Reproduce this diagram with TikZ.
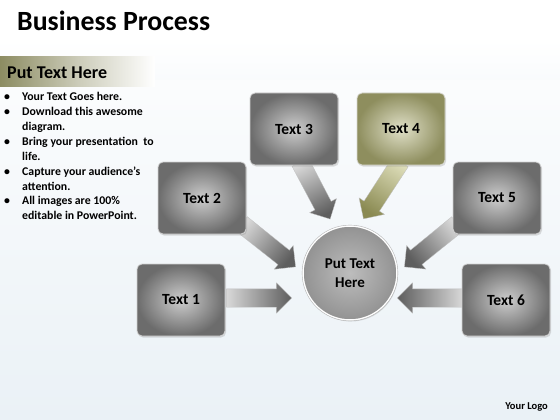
\documentclass[tikz,border=0pt]{standalone}
\usepackage{fontspec}
\setmainfont{Carlito}
\usetikzlibrary{shapes.arrows,calc,shadows}
\pgfdeclarelayer{bg}
\pgfdeclarelayer{arr}
\pgfsetlayers{bg,arr,main}
\definecolor{gboxin}{HTML}{CDCDCD}
\definecolor{gboxout}{HTML}{6C6C6C}
\definecolor{oboxin}{HTML}{E0E0C8}
\definecolor{oboxout}{HTML}{8E8E5E}
\definecolor{garlight}{HTML}{D8D8D8}
\definecolor{gardark}{HTML}{5E5E5E}
\definecolor{oarlight}{HTML}{DCDCB8}
\definecolor{oardark}{HTML}{8A8A52}
\definecolor{bgblue}{HTML}{EAF1F6}
\definecolor{hdrolive}{HTML}{8C8C62}
\newcommand\blockarr[5]{%
  \path let \p1=(#1), \p2=(#2),
    \n1={atan2(\y2-\y1,\x2-\x1)},
    \n2={veclen(\x2-\x1,\y2-\y1)},
    \n3={atan2(\y2-\y1,\x2-\x1)-90} in
    node[barrow, rotate=\n1, minimum height=\n2, top color=#4, bottom color=#3, shading angle=\n3] (#5) at ($(#1)!0.5!(#2)$) {};
}
\begin{document}
\begin{tikzpicture}[x=1pt,y=-1pt,
  pbox/.style={rectangle, rounded corners=5pt, minimum width=88pt, minimum height=72pt,
    inner color=gboxin, outer color=gboxout, draw=gray!35, line width=0.8pt,
    font=\fontsize{15.5}{18}\selectfont\bfseries,
    drop shadow={opacity=0.25,shadow xshift=1pt,shadow yshift=-1.5pt}},
  obox/.style={pbox, inner color=oboxin, outer color=oboxout, draw=oboxin!70!black!40},
  barrow/.style={single arrow, inner xsep=0pt, inner ysep=9pt, single arrow head extend=6pt,
    single arrow head indent=0pt, draw=gray!50, line width=0.3pt, minimum width=0pt}
]
\useasboundingbox (0,0) rectangle (560,420);
\begin{pgfonlayer}{bg}
  \path[top color=white, bottom color=bgblue] (0,0) rectangle (560,420);
  \path[fill=white] (0,0) rectangle (560,40);
  \path[top color=white, bottom color=bgblue!30] (0,40) rectangle (560,80);
  \path[left color=hdrolive, right color=white, middle color=hdrolive!45!white] (0,57) rectangle (155,87);
\end{pgfonlayer}

% title and header
\node[anchor=base west, inner sep=0, font=\fontsize{27.8}{30}\selectfont\bfseries] (title) at (17,31) {Business Process};
\node[anchor=base west, inner sep=0, font=\fontsize{18}{20}\selectfont\bfseries] (hdr) at (7,79) {Put Text Here};

% bullets
\node[anchor=north west, inner sep=0, font=\fontsize{11.8}{14.9}\selectfont\bfseries] (bul) at (4,90)
{\begin{tabular}{@{}p{18pt}@{}l@{}}
\textbullet & Your Text Goes here.\\
\textbullet & Download this awesome\\
 & diagram.\\
\textbullet & Bring your presentation\ \ to\\
 & life.\\
\textbullet & Capture your audience’s\\
 & attention.\\
\textbullet & All images are 100\%\\
 & editable in PowerPoint.
\end{tabular}};

% boxes
\node[pbox] (t3) at (294,129) {Text 3};
\node[obox] (t4) at (401,129) {Text 4};
\node[pbox] (t2) at (202,198) {Text 2};
\node[pbox] (t5) at (497,198) {Text 5};
\node[pbox] (t1) at (181,300) {Text 1};
\node[pbox] (t6) at (506,300) {Text 6};
\node[circle, minimum size=94pt, inner sep=0, inner color=gray!52, outer color=gray!85,
  draw=white, line width=1.5pt, font=\fontsize{15}{18.5}\selectfont\bfseries, align=center,
  drop shadow={opacity=0.25,shadow xshift=1pt,shadow yshift=-1.5pt}] (c) at (350,273) {Put Text\\Here};
\draw[gray!60, line width=0.4pt] (c) circle (47.9pt);

% arrow anchor coordinates
\coordinate (a1s) at (222,298); \coordinate (a1e) at (287,298);
\coordinate (a6s) at (467,298); \coordinate (a6e) at (402,298);
\coordinate (a2s) at (238,221); \coordinate (a2e) at (292,264);
\coordinate (a5s) at (461,221); \coordinate (a5e) at (408,264);
\coordinate (a3s) at (298,158); \coordinate (a3e) at (328,215);
\coordinate (a4s) at (403,158); \coordinate (a4e) at (366,215);

\begin{pgfonlayer}{arr}
  \blockarr{a1s}{a1e}{garlight}{gardark}{ar1}
  \blockarr{a6s}{a6e}{garlight}{gardark}{ar6}
  \blockarr{a2s}{a2e}{garlight}{gardark}{ar2}
  \blockarr{a5s}{a5e}{garlight}{gardark}{ar5}
  \blockarr{a3s}{a3e}{garlight}{gardark}{ar3}
  \blockarr{a4s}{a4e}{oarlight}{oardark}{ar4}
\end{pgfonlayer}

\node[anchor=base east, inner sep=0, font=\fontsize{10.5}{12}\selectfont\bfseries] (logo) at (548,409) {Your Logo};
\end{tikzpicture}
\end{document}
